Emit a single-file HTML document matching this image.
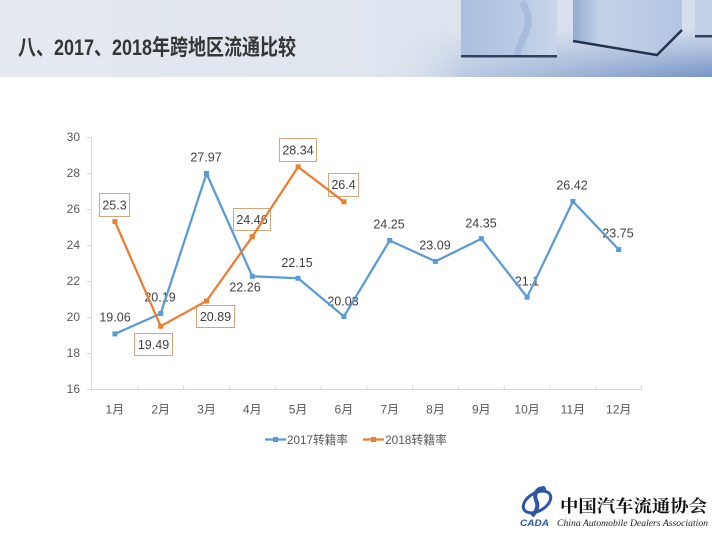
<!DOCTYPE html>
<html><head><meta charset="utf-8"><style>
html,body{margin:0;padding:0;background:#fff;}
svg{display:block;}
text{font-family:"Liberation Sans","Noto Sans CJK SC",sans-serif;}
</style></head><body>
<svg width="712" height="534" viewBox="0 0 712 534" xmlns="http://www.w3.org/2000/svg">
<defs>
<linearGradient id="hdr" x1="0" y1="0" x2="1" y2="0">
<stop offset="0" stop-color="#e5e9f0"/><stop offset="0.55" stop-color="#dfe5ee"/><stop offset="1" stop-color="#d3ddec"/>
</linearGradient>
<linearGradient id="floorH" x1="0" y1="0" x2="1" y2="0">
<stop offset="0" stop-color="#dfe5ee" stop-opacity="0"/><stop offset="0.25" stop-color="#b9c9e2"/><stop offset="1" stop-color="#7594c6"/>
</linearGradient>
<linearGradient id="floorV" x1="0" y1="0" x2="0" y2="1">
<stop offset="0" stop-color="#fff" stop-opacity="0"/><stop offset="1" stop-color="#fff" stop-opacity="1"/>
</linearGradient>
<mask id="fm"><rect x="380" y="30" width="332" height="47" fill="url(#floorV)"/></mask>
<linearGradient id="c1" x1="0" y1="0" x2="1" y2="0">
<stop offset="0" stop-color="#a9bfdf"/><stop offset="0.6" stop-color="#b9cae4"/><stop offset="1" stop-color="#c9d6ea"/>
</linearGradient>
<linearGradient id="c2" x1="0" y1="0" x2="1" y2="0">
<stop offset="0" stop-color="#93abd3"/><stop offset="0.25" stop-color="#c4d2e8"/><stop offset="1" stop-color="#b3c5e2"/>
</linearGradient>
</defs>
<!-- header -->
<rect x="0" y="0" width="712" height="77" fill="url(#hdr)"/>
<rect x="380" y="30" width="332" height="47" fill="url(#floorH)" mask="url(#fm)"/>
<rect x="461" y="0" width="96" height="57" fill="url(#c1)"/>
<path d="M522 2 Q532 18 526 32 Q519 46 517 56" stroke="#9ab1d6" stroke-width="7" fill="none" opacity="0.6"/>
<rect x="461" y="55" width="96" height="2.5" fill="#2e415f"/>
<polygon points="573,0 682,0 682,30 657,55 573,42" fill="url(#c2)"/>
<polyline points="573,41 657,55 682,30" stroke="#24344f" stroke-width="2.5" fill="none"/>
<rect x="695" y="0" width="17" height="37" fill="#c3d1e8"/>
<rect x="695" y="35" width="17" height="2.5" fill="#2e415f"/>
<text x="18" y="55" font-size="22" font-weight="bold" fill="#363636" textLength="278" lengthAdjust="spacingAndGlyphs" style="font-family:'Liberation Sans','Noto Sans CJK SC',sans-serif">八、2017、2018年跨地区流通比较</text>

<!-- axes -->
<g stroke="#d9d9d9" stroke-width="1" fill="none">
<line x1="91.5" y1="137" x2="91.5" y2="389.5"/>
<line x1="91.5" y1="389.5" x2="642" y2="389.5"/>
<line x1="87" y1="137.5" x2="91.5" y2="137.5"/>
<line x1="87" y1="173.5" x2="91.5" y2="173.5"/>
<line x1="87" y1="209.5" x2="91.5" y2="209.5"/>
<line x1="87" y1="245.5" x2="91.5" y2="245.5"/>
<line x1="87" y1="281.5" x2="91.5" y2="281.5"/>
<line x1="87" y1="317.5" x2="91.5" y2="317.5"/>
<line x1="87" y1="353.5" x2="91.5" y2="353.5"/>
<line x1="87" y1="389.5" x2="91.5" y2="389.5"/>
<line x1="137.8" y1="385" x2="137.8" y2="389.5"/>
<line x1="183.6" y1="385" x2="183.6" y2="389.5"/>
<line x1="229.4" y1="385" x2="229.4" y2="389.5"/>
<line x1="275.2" y1="385" x2="275.2" y2="389.5"/>
<line x1="321" y1="385" x2="321" y2="389.5"/>
<line x1="366.8" y1="385" x2="366.8" y2="389.5"/>
<line x1="412.6" y1="385" x2="412.6" y2="389.5"/>
<line x1="458.4" y1="385" x2="458.4" y2="389.5"/>
<line x1="504.2" y1="385" x2="504.2" y2="389.5"/>
<line x1="550" y1="385" x2="550" y2="389.5"/>
<line x1="595.8" y1="385" x2="595.8" y2="389.5"/>
<line x1="641.6" y1="385" x2="641.6" y2="389.5"/>
</g>
<g font-size="12" fill="#595959" text-anchor="end">
<text x="80" y="141">30</text>
<text x="80" y="177">28</text>
<text x="80" y="213">26</text>
<text x="80" y="249">24</text>
<text x="80" y="285">22</text>
<text x="80" y="321">20</text>
<text x="80" y="357">18</text>
<text x="80" y="393">16</text>
</g>
<g font-size="12" fill="#595959" text-anchor="middle">
<text x="114.9" y="413.5">1月</text>
<text x="160.7" y="413.5">2月</text>
<text x="206.5" y="413.5">3月</text>
<text x="252.3" y="413.5">4月</text>
<text x="298.1" y="413.5">5月</text>
<text x="343.9" y="413.5">6月</text>
<text x="389.7" y="413.5">7月</text>
<text x="435.5" y="413.5">8月</text>
<text x="481.3" y="413.5">9月</text>
<text x="527.1" y="413.5">10月</text>
<text x="572.9" y="413.5">11月</text>
<text x="618.7" y="413.5">12月</text>
</g>

<!-- 2018 label boxes -->
<g fill="none" stroke="#d3a77c" stroke-width="1">
<rect x="99.5" y="193.5" width="30" height="23"/>
<rect x="134.5" y="333.5" width="38" height="22"/>
<rect x="196.5" y="305.5" width="38" height="22"/>
<rect x="233.5" y="208.5" width="37" height="22"/>
<rect x="279.5" y="138.5" width="37" height="23"/>
<rect x="328.5" y="173.5" width="30" height="23"/>
</g>
<g font-size="12.5" fill="#404040" text-anchor="middle">
<text x="114.5" y="209.5">25.3</text>
<text x="153.5" y="349">19.49</text>
<text x="215.5" y="321">20.89</text>
<text x="252" y="224">24.46</text>
<text x="298" y="154.5">28.34</text>
<text x="343.5" y="189">26.4</text>
<!-- 2017 labels -->
<text x="115" y="321.5">19.06</text>
<text x="160" y="301.5">20.19</text>
<text x="206" y="161.5">27.97</text>
<text x="245" y="291.5">22.26</text>
<text x="297" y="267">22.15</text>
<text x="343" y="305.5">20.03</text>
<text x="389" y="228.5">24.25</text>
<text x="435" y="249.5">23.09</text>
<text x="481" y="227.5">24.35</text>
<text x="527" y="285.5">21.1</text>
<text x="572" y="189.5">26.42</text>
<text x="618" y="237.5">23.75</text>
</g>

<!-- series 2017 -->
<polyline fill="none" stroke="#5b9bd5" stroke-width="2.25" stroke-linejoin="round"
points="114.9,333.9 160.7,313.6 206.5,173.5 252.3,276.3 298.1,278.3 343.9,316.5 389.7,240.5 435.5,261.4 481.3,238.7 527.1,297.2 572.9,201.4 618.7,249.5"/>
<g fill="#5b9bd5">
<rect x="112.4" y="331.4" width="5" height="5"/>
<rect x="158.2" y="311.1" width="5" height="5"/>
<rect x="204" y="171" width="5" height="5"/>
<rect x="249.8" y="273.8" width="5" height="5"/>
<rect x="295.6" y="275.8" width="5" height="5"/>
<rect x="341.4" y="314" width="5" height="5"/>
<rect x="387.2" y="238" width="5" height="5"/>
<rect x="433" y="258.9" width="5" height="5"/>
<rect x="478.8" y="236.2" width="5" height="5"/>
<rect x="524.6" y="294.7" width="5" height="5"/>
<rect x="570.4" y="198.9" width="5" height="5"/>
<rect x="616.2" y="247" width="5" height="5"/>
</g>
<!-- series 2018 -->
<polyline fill="none" stroke="#ed7d31" stroke-width="2.25" stroke-linejoin="round"
points="114.9,221.6 160.7,326.2 206.5,301 252.3,236.7 298.1,166.9 343.9,201.8"/>
<g fill="#ed7d31">
<rect x="112.4" y="219.1" width="5" height="5"/>
<rect x="158.2" y="323.7" width="5" height="5"/>
<rect x="204" y="298.5" width="5" height="5"/>
<rect x="249.8" y="234.2" width="5" height="5"/>
<rect x="295.6" y="164.4" width="5" height="5"/>
<rect x="341.4" y="199.3" width="5" height="5"/>
</g>

<!-- legend -->
<line x1="265" y1="439.5" x2="286" y2="439.5" stroke="#5b9bd5" stroke-width="2.25"/>
<rect x="273" y="437" width="5" height="5" fill="#5b9bd5"/>
<text x="287" y="444" font-size="12" fill="#595959" textLength="61" lengthAdjust="spacingAndGlyphs">2017转籍率</text>
<line x1="363" y1="439.5" x2="384" y2="439.5" stroke="#ed7d31" stroke-width="2.25"/>
<rect x="371" y="437" width="5" height="5" fill="#ed7d31"/>
<text x="385" y="444" font-size="12" fill="#595959" textLength="62" lengthAdjust="spacingAndGlyphs">2018转籍率</text>

<!-- logo -->
<g>
<ellipse cx="537" cy="502" rx="15" ry="9" transform="rotate(-30 537 502)" fill="none" stroke="#2f55a8" stroke-width="3"/>
<path d="M541 488 Q533 492 536 500 Q540 508 532 516" stroke="#2f55a8" stroke-width="4" fill="none"/>
<circle cx="543" cy="489" r="3" fill="#2f55a8"/>
<text x="520" y="526" font-size="9" font-weight="bold" font-style="italic" fill="#2f55a8" textLength="29" lengthAdjust="spacingAndGlyphs">CADA</text>
<text x="560" y="512" font-size="17" font-weight="bold" fill="#111" textLength="147" lengthAdjust="spacingAndGlyphs" style="font-family:'Liberation Serif','Noto Serif CJK SC',serif">中国汽车流通协会</text>
<text x="557" y="526" font-size="9.5" font-style="italic" fill="#222" textLength="151" lengthAdjust="spacingAndGlyphs" style="font-family:'Liberation Serif',serif">China Automobile Dealers Association</text>
</g>
</svg>
</body></html>
